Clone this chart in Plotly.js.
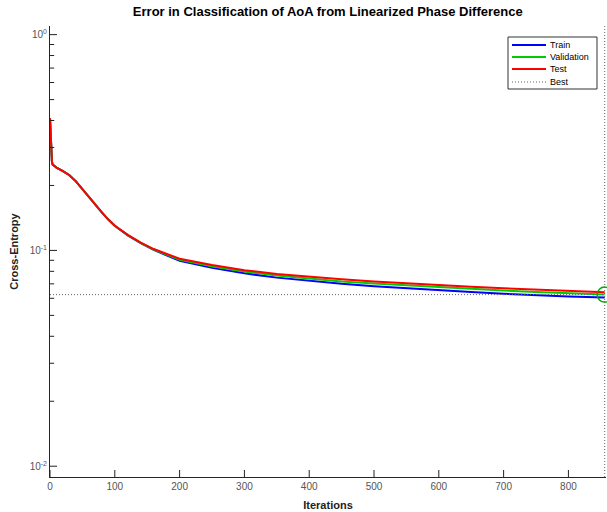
<!DOCTYPE html>
<html>
<head>
<meta charset="utf-8">
<script src="https://cdn.plot.ly/plotly-3.0.1.min.js"></script>
<style>html,body{margin:0;padding:0;background:#fff;}#chart{width:607px;height:512px;}</style>
</head>
<body>
<div id="chart"></div>
<script>
const iterations = [0,1,2,3,4,10,20,30,40,50,60,70,80,90,100,120,140,160,180,200,250,300,350,400,450,500,550,600,650,700,750,800,856];
const trainPerf = [0.41,0.33,0.28,0.258,0.250,0.242,0.233,0.223,0.209,0.192,0.176,0.162,0.150,0.139,0.130,0.1175,0.108,0.1005,0.0945,0.0895,0.083,0.0783,0.0748,0.0722,0.0700,0.0683,0.0667,0.0653,0.0641,0.0630,0.0620,0.0612,0.0605];
const valPerf = [0.41,0.33,0.28,0.258,0.250,0.242,0.233,0.223,0.209,0.192,0.176,0.162,0.150,0.139,0.130,0.1177,0.1083,0.101,0.0952,0.0905,0.0845,0.0798,0.0765,0.0740,0.0718,0.0702,0.0688,0.0675,0.0663,0.0652,0.0642,0.0633,0.0624];
const testPerf = [0.41,0.33,0.28,0.258,0.250,0.242,0.233,0.223,0.209,0.192,0.176,0.162,0.150,0.139,0.1302,0.118,0.1086,0.1015,0.096,0.0915,0.0855,0.0810,0.0778,0.0755,0.0735,0.0718,0.0703,0.0690,0.0678,0.0667,0.0657,0.0648,0.0640];
const bestEpoch = 856;
const bestPerf = 0.0624;
const seriesNames = ['Train', 'Validation', 'Test', 'Best'];
const seriesColors = ['#0000ff', '#00cc00', '#ff0000', '#666666'];
const xTickVals = [0,100,200,300,400,500,600,700,800];
const yDecades = [0.01, 0.1, 1];
const yDecadeText = ['10<sup>-2</sup>','10<sup>-1</sup>','10<sup>0</sup>'];
const yRangeLog = [-2.05, 0.04];
const xRange = [0, 858];

const yMinorVals = [];
yDecades.forEach(d => { if (d < 1) for (let k = 2; k <= 9; k++) yMinorVals.push(d * k); });
const yBottom = Math.pow(10, yRangeLog[0]);

// plot-area geometry (pixels) for the hand-drawn legend box
const W = 607, H = 512, M = {l: 50, r: 1, t: 26, b: 35};
const pw = W - M.l - M.r, ph = H - M.t - M.b;
const px = v => (v - M.l) / pw;
const py = v => (H - M.b - v) / ph;

// inward tick marks: line markers centred on the axis lines, outer half clipped away
const tickMark = (xs, ys, sym, size) => ({x: xs, y: ys, mode: 'markers', showlegend: false, hoverinfo: 'skip',
  cliponaxis: true, marker: {symbol: sym, size: size, color: '#222', line: {width: 1, color: '#222'}}});

const traces = [
  {x: iterations, y: trainPerf, name: seriesNames[0], mode: 'lines', line: {color: seriesColors[0], width: 2}},
  {x: iterations, y: valPerf, name: seriesNames[1], mode: 'lines', line: {color: seriesColors[1], width: 2}},
  {x: iterations, y: testPerf, name: seriesNames[2], mode: 'lines', line: {color: seriesColors[2], width: 2}},
  {x: [xRange[0], bestEpoch, null, bestEpoch, bestEpoch],
   y: [bestPerf, bestPerf, null, yBottom, Math.pow(10, yRangeLog[1])],
   name: seriesNames[3], mode: 'lines', line: {color: seriesColors[3], width: 1, dash: '1px,2px'}},
  {x: [bestEpoch], y: [bestPerf], mode: 'markers', showlegend: false, cliponaxis: false,
   marker: {symbol: 'circle-open', size: 15, color: '#00aa00', line: {width: 1.5, color: '#00aa00'}}},
  tickMark(xTickVals, xTickVals.map(() => yBottom), 'line-ns-open', 10),
  tickMark(yDecades.map(() => xRange[0]), yDecades, 'line-ew-open', 10),
  tickMark(yMinorVals.map(() => xRange[0]), yMinorVals, 'line-ew-open', 6)
];

// legend drawn as shapes + annotations (compact MATLAB style)
const legRows = [45, 57, 69, 82];
const shapes = [
  {type: 'rect', xref: 'paper', yref: 'paper', x0: px(508), x1: px(597), y0: py(37), y1: py(89),
   line: {color: '#333', width: 1}, fillcolor: '#fff', layer: 'above'}
];
const annotations = [];
legRows.forEach((r, i) => {
  shapes.push({type: 'line', xref: 'paper', yref: 'paper', x0: px(512), x1: px(546), y0: py(r), y1: py(r),
    line: {color: seriesColors[i], width: i === 3 ? 1 : 2, dash: i === 3 ? '1px,2px' : 'solid'}, layer: 'above'});
  annotations.push({xref: 'paper', yref: 'paper', x: px(548), y: py(r), xanchor: 'left', yanchor: 'middle',
    text: seriesNames[i], showarrow: false, font: {size: 9, color: '#000'}});
});

const layout = {
  width: W, height: H,
  margin: M,
  paper_bgcolor: '#ffffff', plot_bgcolor: '#ffffff',
  font: {family: 'Liberation Sans, Arial, sans-serif', color: '#262626'},
  showlegend: false,
  title: {text: '<b>Error in Classification of AoA from Linearized Phase Difference</b>',
          font: {size: 13, color: '#000'}, x: 0.54, xanchor: 'center', y: 0.987, yanchor: 'top'},
  xaxis: {range: xRange, tickvals: xTickVals, ticks: '',
          showline: true, linecolor: '#262626', linewidth: 1, showgrid: false, zeroline: false,
          tickfont: {size: 10, color: '#555'},
          title: {text: '<b>Iterations</b>', font: {size: 11, color: '#222'}, standoff: 10}},
  yaxis: {type: 'log', range: yRangeLog, tickmode: 'array', tickvals: yDecades, ticktext: yDecadeText,
          ticks: '', showline: true, linecolor: '#262626', linewidth: 1, showgrid: false, zeroline: false,
          tickfont: {size: 10, color: '#555'},
          title: {text: '<b>Cross-Entropy</b>', font: {size: 11, color: '#222'}, standoff: 8}},
  shapes: shapes,
  annotations: annotations
};

Plotly.newPlot('chart', traces, layout, {displayModeBar: false, staticPlot: true});
</script>
</body>
</html>
